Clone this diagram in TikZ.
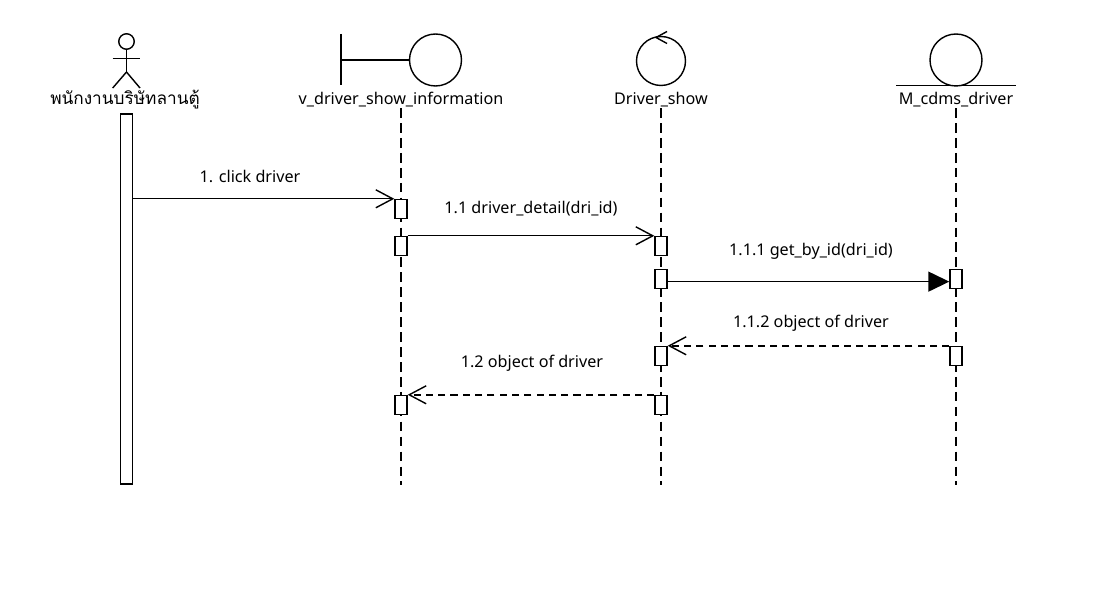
\documentclass[tikz,border=0pt]{standalone}
\usepackage{fontspec}
\setmainfont{Noto Sans}
\newfontfamily\thaifont[Script=Thai]{Loma}
\usetikzlibrary{arrows.meta}

\begin{document}
\begin{tikzpicture}[x=0.02cm,y=-0.02cm,line width=0.8pt]
	\tikzstyle{label}=[font=\fontsize{9.2}{11}\selectfont,inner sep=0pt]
	\tikzstyle{act}=[draw=black,fill=white,minimum width=0.24cm,minimum height=0.38cm,inner sep=0pt]
	\tikzstyle{ring}=[circle,draw=black,inner sep=0pt]
	\tikzstyle{life}=[dash pattern=on 5.5pt off 3pt]
	\tikzstyle{call}=[-{Straight Barb[length=0.34cm,width=0.36cm]}]
	\tikzstyle{sync}=[-{Triangle[length=0.42cm,width=0.4cm]}]
	\tikzstyle{ret}=[dash pattern=on 4pt off 3pt,-{Straight Barb[length=0.34cm,width=0.36cm]}]
	\useasboundingbox (0,0) rectangle (1117,591);
	% actor
	\node[ring,minimum size=0.31cm] (head) at (126.5,41.5) {};
	\coordinate (hip) at (126.5,72);
	\coordinate (larm) at (112.7,58.5);
	\coordinate (rarm) at (140,58.5);
	\coordinate (lleg) at (112.7,88);
	\coordinate (rleg) at (140,88);
	\draw (head.south) -- (hip);
	\draw (larm) -- (rarm);
	\draw (lleg) -- (hip) -- (rleg);
	\node[label,font=\fontsize{9.8}{11}\selectfont] (lu) at (125,100) {\thaifont พนักงานบริษัทลานตู้};
	% boundary
	\coordinate (bt) at (341,34);
	\coordinate (bb) at (341,85);
	\coordinate (bm) at (341,60);
	\node[ring,minimum size=1.04cm] (bc) at (435.5,60) {};
	\draw (bt) -- (bb);
	\draw (bm) -- (bc.west);
	\node[label] (lv) at (401,100) {v\_driver\_show\_information};
	% control
	\node[ring,minimum size=0.98cm] (cc) at (661,61) {};
	\draw (667,31.5) -- (656,37.5) -- (667,43.5);
	\node[label] (lc) at (661,100) {Driver\_show};
	% entity
	\node[ring,minimum size=1.04cm] (ec) at (956,60) {};
	\draw (896,85.5) -- (1016,85.5);
	\node[label] (lm) at (956,100) {M\_cdms\_driver};
	% lifelines
	\coordinate (bot) at (0,485);
	\draw[life] (lv.south) -- (lv.south |- bot);
	\draw[life] (lc.south) -- (lc.south |- bot);
	\draw[life] (lm.south) -- (lm.south |- bot);
	% activations
	\node[act,minimum width=0.25cm,minimum height=7.4cm] (bar) at (126.5,299) {};
	\node[act] (a1) at (401,209) {};
	\node[act] (a2) at (401,246) {};
	\node[act] (b1) at (661,246) {};
	\node[act] (b2) at (661,279) {};
	\node[act] (c1) at (956,279) {};
	\node[act] (c2) at (956,356) {};
	\node[act] (b3) at (661,356) {};
	\node[act] (b4) at (661,405) {};
	\node[act] (a3) at (401,405) {};
	% messages
	\draw[call] (bar.east |- a1.north) -- (a1.north west);
	\draw[call] (a2.north east) -- (b1.north west);
	\draw[sync] ([yshift=-1.5pt]b2.east) -- ([yshift=-1.5pt]c1.west);
	\draw[ret] (c2.north west) -- (b3.north east);
	\draw[ret] (b4.north west) -- (a3.north east);
	\node[label] (m1) at (250,176) {1. click driver};
	\node[label] (m2) at (531,209) {1.1 driver\_detail(dri\_id)};
	\node[label] (m3) at (811,251) {1.1.1 get\_by\_id(dri\_id)};
	\node[label] (m4) at (811,323) {1.1.2 object of driver};
	\node[label] (m5) at (532,363) {1.2 object of driver};
\end{tikzpicture}
\end{document}
